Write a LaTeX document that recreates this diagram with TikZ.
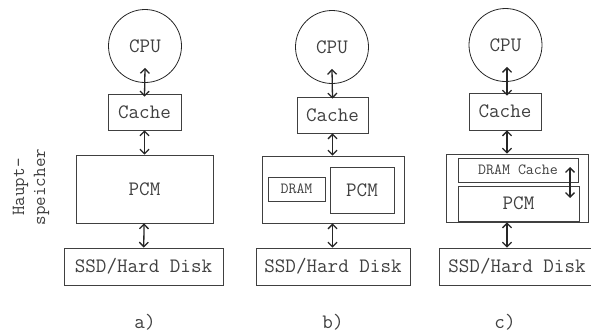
\documentclass[tikz,border=0pt]{standalone}
\usepackage{tikz}
\usetikzlibrary{positioning,arrows,arrows.meta}

\begin{document}
\begin{tikzpicture}[
    x=1pt, y=-1pt,
    txt/.style={font=\ttfamily\fontsize{20.5}{22}\selectfont, text=black!75},
    small/.style={font=\ttfamily\fontsize{15.5}{17}\selectfont, text=black!75},
    cpu/.style={circle, draw=black!85, line width=0.8pt, minimum size=73pt,
        inner sep=0pt, txt},
    box/.style={rectangle, draw=black!75, line width=0.8pt, inner sep=0pt, txt},
    link/.style={{Straight Barb[length=4.5pt,width=9pt]}-{Straight Barb[length=4.5pt,width=9pt]},
        draw=black!85, line width=1.3pt}
]
\useasboundingbox (0,0) rectangle (591,333);

% a) nur PCM
\node (cpuA) [cpu] at (145,46) {CPU};
\node (cacheA) [box, minimum width=73pt, minimum height=36pt] at (144.5,112) {Cache};
\node (pcmA) [box, minimum width=137pt, minimum height=68pt] at (144.5,189) {PCM};
\node (ssdA) [box, minimum width=159pt, minimum height=37pt] at (143.5,266.5) {SSD/Hard Disk};
\node (labA) [txt] at (145,322) {a)};
\node (haupt) [txt, font=\ttfamily\fontsize{18.5}{21}\selectfont, rotate=90, align=center]
    at (31,187) {Haupt-\\speicher};
\draw[link] ([yshift=15pt]cpuA.south) -- ([yshift=-3pt]cacheA.north);
\draw[link] (cacheA) -- (pcmA);
\draw[link] (pcmA) -- (ssdA);

% b) DRAM neben PCM
\node (cpuB) [cpu] at (332,47) {CPU};
\node (cacheB) [box, minimum width=71pt, minimum height=36pt] at (332.5,115) {Cache};
\node (memB) [box, minimum width=142pt, minimum height=67pt] at (333,189.5) {};
\node (dramB) [box, small, minimum width=57pt, minimum height=24pt] at (296.5,189) {DRAM};
\node (pcmB) [box, minimum width=64pt, minimum height=46pt] at (362,190) {PCM};
\node (ssdB) [box, minimum width=154pt, minimum height=37pt] at (333,266.5) {SSD/Hard Disk};
\node (labB) [txt] at (333,322) {b)};
\draw[link] ([yshift=15pt]cpuB.south) -- ([yshift=-2pt]cacheB.north);
\draw[link] (cacheB) -- (cacheB.south |- memB.north);
\draw[link] (memB.south -| cacheB) -- (ssdB.north -| cacheB);

% c) DRAM als Cache vor PCM
\node (cpuC) [cpu] at (505.5,45) {CPU};
\node (cacheC) [box, minimum width=72pt, minimum height=37pt] at (505,111.5) {Cache};
\node (memC) [box, minimum width=142pt, minimum height=68pt] at (517,188) {};
\node (dramC) [box, small, minimum width=120pt, minimum height=24pt] at (518,170) {DRAM Cache};
\node (pcmC) [box, minimum width=121pt, minimum height=35pt] at (518.5,203.5) {PCM};
\node (ssdC) [box, minimum width=156pt, minimum height=37pt] at (517,266.5) {SSD/Hard Disk};
\node (labC) [txt] at (505,322) {c)};
\coordinate (axisC) at (507,0);
\coordinate (swapTop) at (570,167);
\coordinate (swapBot) at (570,198);
\draw[link] ([yshift=15pt]cpuC.south -| axisC) -- ([yshift=-3pt]cacheC.north -| axisC);
\draw[link] (cacheC.south -| axisC) -- (memC.north -| axisC);
\draw[link] (memC.south -| axisC) -- (ssdC.north -| axisC);
\draw[link] (swapTop) -- (swapBot);

\end{tikzpicture}
\end{document}
